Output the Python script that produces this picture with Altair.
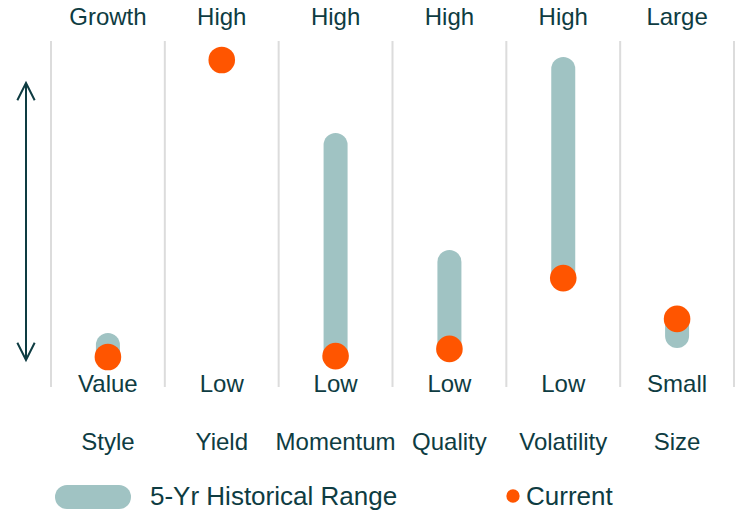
import altair as alt
import pandas as pd

# Factor positioning: current reading versus 5-year historical range
factors = ["Style", "Yield", "Momentum", "Quality", "Volatility", "Size"]
high_labels = ["Growth", "High", "High", "High", "High", "Large"]
low_labels = ["Value", "Low", "Low", "Low", "Low", "Small"]
range_low = [1.0, 100.0, 1.3, 3.7, 27.3, 8.0]
range_high = [5.0, 100.0, 71.7, 32.7, 97.0, 13.7]
current = [1.0, 100.0, 1.3, 3.7, 27.3, 13.7]

TEXT = "#0e3c42"
BAR = "#a0c3c3"
DOT = "#ff5500"
GRID = "#dcdcdc"
FONT = "Liberation Sans"

df = pd.DataFrame({
    "idx": list(range(len(factors))),
    "factor": factors,
    "high_label": high_labels,
    "low_label": low_labels,
    "low": range_low,
    "high": range_high,
    "current": current,
})
bounds = pd.DataFrame({"b": [i - 0.5 for i in range(len(factors) + 1)]})
one = pd.DataFrame({"k": [0]})

xs = alt.Scale(domain=[-0.5, len(factors) - 0.5], range=[51, 734])
ys = alt.Scale(domain=[0, 100], range=[360, 60])
X = alt.X("idx:Q", scale=xs, axis=None)

separators = alt.Chart(bounds).mark_rule(color=GRID, strokeWidth=2).encode(
    x=alt.X("b:Q", scale=xs, axis=None),
    y=alt.value(41), y2=alt.value(387),
)

ranges = alt.Chart(df).mark_rule(color=BAR, strokeWidth=24, strokeCap="round").encode(
    x=X,
    y=alt.Y("low:Q", scale=ys, axis=None),
    y2="high:Q",
)

dots = alt.Chart(df).mark_circle(color=DOT, size=707, opacity=1).encode(
    x=X,
    y=alt.Y("current:Q", scale=ys, axis=None),
)

def row_text(field, ypix, size=24):
    return alt.Chart(df).mark_text(
        font=FONT, fontSize=size, color=TEXT, align="center", baseline="middle"
    ).encode(x=X, y=alt.value(ypix), text=f"{field}:N")

top = row_text("high_label", 18)
bottom = row_text("low_label", 385)
names = row_text("factor", 443)

# Double-headed arrow on the left
shaft = alt.Chart(one).mark_rule(color=TEXT, strokeWidth=2).encode(
    x=alt.value(26), y=alt.value(83), y2=alt.value(360)
)
head_up = alt.Chart(one).mark_point(
    shape="M -1 2 L 0 0 L 1 2", filled=False, color=TEXT, strokeWidth=2,
    size=300, opacity=1
).encode(x=alt.value(26), y=alt.value(83))
head_down = alt.Chart(one).mark_point(
    shape="M -1 -2 L 0 0 L 1 -2", filled=False, color=TEXT, strokeWidth=2,
    size=300, opacity=1
).encode(x=alt.value(26), y=alt.value(360))

# Legend
leg_bar = alt.Chart(one).mark_rule(color=BAR, strokeWidth=24, strokeCap="round").encode(
    x=alt.value(67), x2=alt.value(119), y=alt.value(497)
)
leg_bar_text = alt.Chart(one).mark_text(
    font=FONT, fontSize=26, color=TEXT, align="left", baseline="middle", text="5-Yr Historical Range"
).encode(x=alt.value(150), y=alt.value(497))
leg_dot = alt.Chart(one).mark_circle(color=DOT, size=177, opacity=1).encode(
    x=alt.value(513), y=alt.value(496)
)
leg_dot_text = alt.Chart(one).mark_text(
    font=FONT, fontSize=26, color=TEXT, align="left", baseline="middle", text="Current"
).encode(x=alt.value(526), y=alt.value(497))

chart = alt.layer(
    separators, ranges, dots, top, bottom, names,
    shaft, head_up, head_down,
    leg_bar, leg_bar_text, leg_dot, leg_dot_text,
).properties(
    width=738, height=512, autosize=alt.AutoSizeParams(type="none"), padding=0,
    background="white",
).configure_view(stroke=None)

chart.save("out.html", embed_options={"renderer": "svg", "actions": False})
